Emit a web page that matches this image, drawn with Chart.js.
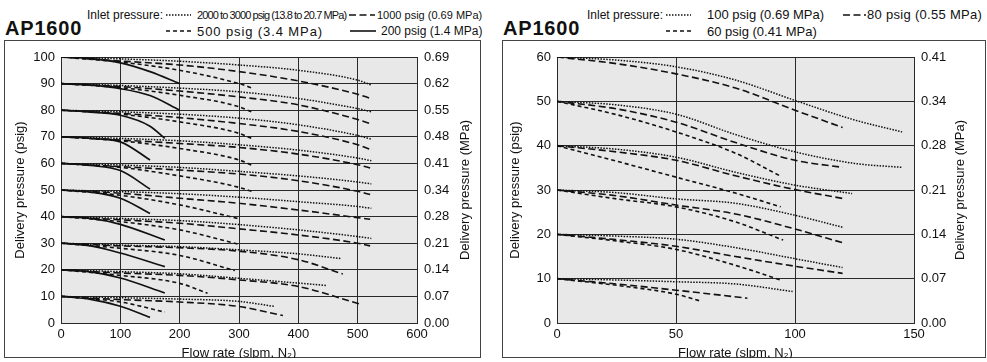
<!DOCTYPE html>
<html>
<head>
<meta charset="utf-8">
<script src="https://cdn.jsdelivr.net/npm/chart.js@4"></script>
<style>
  body { margin:0; width:987px; height:362px; background:#fff; position:relative; overflow:hidden;
         font-family:"Liberation Sans", Arial, sans-serif; color:#111; }
  .frame { position:absolute; top:40px; height:318px; border:1px solid #444; box-sizing:border-box; }
  canvas { position:absolute; top:40px; }
  .t { position:absolute; white-space:nowrap; line-height:1; transform-origin:0 50%; }
  .ap { font-weight:bold; font-size:20px; }
  svg.k { position:absolute; }
</style>
</head>
<body>
<div class="frame" style="left:4px;width:477px"></div>
<div class="frame" style="left:502px;width:484px"></div>

<!-- left header -->
<div class="t ap" style="left:5px;top:18px;letter-spacing:0.8px">AP1600</div>
<div class="t" style="left:87px;top:9px;font-size:12px">Inlet pressure:</div>
<svg class="k" style="left:166px;top:10px" width="25" height="10"><line x1="0" y1="5" x2="25" y2="5" stroke="#111" stroke-width="1.4" stroke-dasharray="1.5 1.5"/></svg>
<div class="t" style="left:197px;top:10px;font-size:11px;letter-spacing:-0.9px">2000 to 3000 psig (13.8 to 20.7 MPa)</div>
<svg class="k" style="left:349px;top:10px" width="26" height="10"><line x1="0" y1="5" x2="26" y2="5" stroke="#111" stroke-width="1.5" stroke-dasharray="7 3.5"/></svg>
<div class="t" style="left:377px;top:10px;font-size:11px">1000 psig (0.69 MPa)</div>
<svg class="k" style="left:166px;top:26px" width="25" height="10"><line x1="0" y1="5" x2="25" y2="5" stroke="#111" stroke-width="1.5" stroke-dasharray="4 3"/></svg>
<div class="t" style="left:197px;top:25px;font-size:13px;letter-spacing:0.9px">500 psig (3.4 MPa)</div>
<svg class="k" style="left:350px;top:26px" width="26" height="10"><line x1="0" y1="5" x2="26" y2="5" stroke="#111" stroke-width="1.6"/></svg>
<div class="t" style="left:381px;top:25px;font-size:12px">200 psig (1.4 MPa)</div>

<!-- right header -->
<div class="t ap" style="left:503px;top:18px;letter-spacing:0.8px">AP1600</div>
<div class="t" style="left:587px;top:9px;font-size:12px">Inlet pressure:</div>
<svg class="k" style="left:666px;top:10px" width="25" height="10"><line x1="0" y1="5" x2="25" y2="5" stroke="#111" stroke-width="1.4" stroke-dasharray="1.5 1.5"/></svg>
<div class="t" style="left:707px;top:8px;font-size:13px">100 psig (0.69 MPa)</div>
<svg class="k" style="left:843px;top:10px" width="23" height="10"><line x1="0" y1="5" x2="23" y2="5" stroke="#111" stroke-width="1.5" stroke-dasharray="7 3.5"/></svg>
<div class="t" style="left:867px;top:8px;font-size:13px;letter-spacing:0.3px">80 psig (0.55 MPa)</div>
<svg class="k" style="left:666px;top:26px" width="25" height="10"><line x1="0" y1="5" x2="25" y2="5" stroke="#111" stroke-width="1.5" stroke-dasharray="4 3"/></svg>
<div class="t" style="left:707px;top:25px;font-size:13px">60 psig (0.41 MPa)</div>

<canvas id="left" width="476" height="318" style="left:4px"></canvas>
<canvas id="right" width="483" height="318" style="left:502px"></canvas>

<script>
// ---- left chart: set pressures 10..100 psig, flow 0..600 slpm ----
// each curve is a list of [flow, delivery pressure]
const leftDotted = [ // 2000 to 3000 psig inlet
  [[0,100],[100,99.3],[200,98.4],[300,97],[400,95],[500,91.3],[523,89.5]],
  [[0,90],[100,89.3],[200,88.3],[300,86.9],[400,84.4],[500,80.6],[523,79.4]],
  [[0,80],[100,79.4],[200,78.5],[300,77],[400,74.5],[500,70.5],[523,69.1]],
  [[0,70],[100,69.4],[200,68.5],[300,67],[400,65],[500,62],[523,61]],
  [[0,60],[100,59.4],[200,58.5],[300,57],[400,55.3],[500,53],[523,52.3]],
  [[0,50],[100,49.4],[200,48.6],[300,47.3],[400,45.6],[500,43.8],[523,43.1]],
  [[0,40],[100,39.3],[200,38.5],[300,37],[400,35],[500,32.5],[523,31.8]],
  [[0,30],[100,29.3],[200,28.7],[300,27.5],[400,26],[473,24.2]],
  [[0,20],[100,19.3],[200,18.5],[300,16.8],[400,15],[448,14.1]],
  [[0,10],[100,9.5],[200,9],[300,8.1],[361,6.2]]
];
const leftLongDash = [ // 1000 psig inlet
  [[0,100],[100,98.5],[200,97],[300,94.5],[400,91],[500,86],[521,84.5]],
  [[0,90],[100,88.9],[200,87.2],[300,85],[400,82],[500,76.5],[521,75]],
  [[0,80],[100,78.8],[200,77.2],[300,75],[400,72],[500,67],[521,65.3]],
  [[0,70],[100,68.8],[200,67.5],[300,66],[400,63.5],[500,59.5],[521,58.3]],
  [[0,60],[100,58.8],[200,57.5],[300,56],[400,53.5],[500,49.5],[521,48.3]],
  [[0,50],[100,48.8],[200,46.9],[300,45],[400,42.5],[500,39.6],[521,39]],
  [[0,40],[100,38.8],[200,37.5],[300,35.4],[400,33.1],[500,30],[521,29]],
  [[0,30],[100,29],[200,28.3],[300,27],[400,23.8],[475,18.4]],
  [[0,20],[100,18.8],[200,17.9],[300,16.2],[400,13.7],[504,7.1]],
  [[0,10],[100,8.8],[200,7.9],[300,6.2],[374,2.8]]
];
const leftShortDash = [ // 500 psig inlet
  [[0,100],[100,98.1],[200,95],[300,90],[325,88.1]],
  [[0,90],[100,88.5],[200,85.6],[300,81.3],[325,79]],
  [[0,80],[100,78.5],[200,75.6],[300,71.3],[325,69]],
  [[0,70],[100,68.5],[200,65.6],[300,61.3],[325,59]],
  [[0,60],[100,58.5],[200,55.3],[300,51],[325,49.2]],
  [[0,50],[100,48],[200,44.4],[300,39.2]],
  [[0,40],[100,38.1],[200,35],[300,29.6]],
  [[0,30],[100,28.1],[200,25.4],[293,19.7]],
  [[0,20],[100,17.9],[200,14.9],[247,11.2]],
  [[0,10],[100,7.9],[175,4.1]]
];
const leftSolid = [ // 200 psig inlet
  [[0,100],[50,99.4],[100,97.8],[150,94.5],[200,90]],
  [[0,90],[50,89.4],[100,88.1],[150,85.5],[200,80]],
  [[0,80],[50,79.3],[100,78.1],[150,74],[175,69.4]],
  [[0,70],[50,69.4],[100,68.1],[150,61.3]],
  [[0,60],[50,59.2],[100,57.3],[150,50.4]],
  [[0,50],[50,49.2],[100,46.9],[150,41.2]],
  [[0,40],[50,39.3],[100,37.1],[175,31.2]],
  [[0,30],[50,29],[100,26.3],[175,21.2]],
  [[0,20],[50,19.2],[100,16.9],[175,11.3]],
  [[0,10],[50,8.9],[100,6.3],[150,2.1]]
];
const leftMpa = ['0.00','0.07','0.14','0.21','0.28','0.34','0.41','0.48','0.55','0.62','0.69'];

// ---- right chart: set pressures 10..60 psig, flow 0..150 slpm ----
const rightDotted = [ // 100 psig inlet
  [[0,60],[25,59.3],[50,57.8],[75,54.8],[100,50.2],[125,45.8],[145,43.1]],
  [[0,50],[25,49.2],[50,47.1],[75,42.5],[100,38.6],[125,36],[145,35.1]],
  [[0,40],[25,39.2],[50,37.4],[75,34],[100,31.1],[124,29.2]],
  [[0,30],[25,29.4],[50,28],[75,27],[100,24.3],[120,21.6]],
  [[0,20],[25,19.6],[50,18.9],[75,17],[100,14.5],[120,12.5]],
  [[0,10],[25,9.7],[50,9.3],[75,8.8],[99,7.1]]
];
const rightLongDash = [ // 80 psig inlet
  [[0,60],[25,58.5],[50,56.2],[75,53],[100,48],[120,44.1]],
  [[0,50],[25,48.3],[50,45.3],[75,40.7],[100,36.7],[120,35.1]],
  [[0,40],[25,38.6],[50,36.7],[75,33.2],[100,30.1],[120,28.1]],
  [[0,30],[25,28.7],[50,26.6],[75,24.6],[100,21.2],[120,18.1]],
  [[0,20],[25,18.8],[50,17.3],[75,15],[100,12.8],[120,11.2]],
  [[0,10],[25,8.8],[50,7.4],[80,5.6]]
];
const rightShortDash = [ // 60 psig inlet
  [[0,50],[25,47],[50,43.1],[75,38.3],[94,33.1]],
  [[0,40],[25,36.5],[50,32.9],[75,29.3],[94,26.2]],
  [[0,30],[25,28],[50,26.2],[75,22.8],[95,18.7]],
  [[0,20],[25,18.5],[50,16.6],[75,13],[94,9.7]],
  [[0,10],[25,8.5],[50,6.5],[60,5]]
];
const rightMpa = ['0.00','0.07','0.14','0.21','0.28','0.34','0.41'];

const ink = '#111';
const font = { family: '"Liberation Sans", Arial, sans-serif', size: 13 };

const dotted = { w: 1.5, dash: [1.5, 1.4] };
const longDash = { w: 1.6, dash: [7, 3.5] };
const shortDash = { w: 1.6, dash: [4, 3] };
const solid = { w: 1.7, dash: [] };

function curves(list, st) {
  return list.map(pts => ({
    data: pts.map(p => ({ x: p[0], y: p[1] })),
    borderColor: ink, borderWidth: st.w, borderDash: st.dash,
    pointRadius: 0, fill: false, cubicInterpolationMode: 'monotone'
  }));
}

// gray plot background
const plotBg = {
  id: 'plotBg',
  beforeDraw(chart) {
    const { ctx, chartArea: a } = chart;
    ctx.save();
    ctx.fillStyle = '#e8e8e8';
    ctx.fillRect(a.left, a.top, a.right - a.left, a.bottom - a.top);
    ctx.restore();
  }
};

// axis titles, both side titles read bottom to top
const axisTitles = {
  id: 'axisTitles',
  afterDraw(chart, args, o) {
    const { ctx, chartArea: a } = chart;
    ctx.save();
    ctx.fillStyle = ink;
    ctx.font = '13px "Liberation Sans", Arial, sans-serif';
    ctx.textAlign = 'center';
    ctx.textBaseline = 'middle';
    ctx.fillText('Flow rate (slpm, N\u2082)', (a.left + a.right) / 2, a.bottom + 30);
    const cy = (a.top + a.bottom) / 2;
    [[a.left - o.l, 'Delivery pressure (psig)'], [a.right + o.r, 'Delivery pressure (MPa)']].forEach(([x, t]) => {
      ctx.save();
      ctx.translate(x, cy);
      ctx.rotate(-Math.PI / 2);
      ctx.fillText(t, 0, 0);
      ctx.restore();
    });
    ctx.restore();
  }
};

function makeChart(id, datasets, xMax, xStep, yMax, mpa, leftW, padRight, tl, tr) {
  const grid = { color: '#2a2a2a', lineWidth: 1, drawTicks: false };
  return new Chart(document.getElementById(id), {
    type: 'line',
    data: { datasets },
    options: {
      responsive: false,
      animation: false,
      layout: { padding: { top: 17, right: padRight, left: 0, bottom: 0 } },
      plugins: { legend: { display: false }, tooltip: { enabled: false }, axisTitles: { l: tl, r: tr } },
      scales: {
        x: {
          type: 'linear', min: 0, max: xMax,
          ticks: { stepSize: xStep, padding: 4, color: ink, font, maxRotation: 0 },
          grid, border: { color: '#2a2a2a' },
          afterFit: s => { s.height = 35; }
        },
        y: {
          min: 0, max: yMax,
          ticks: { stepSize: 10, padding: 6, color: ink, font },
          grid, border: { color: '#2a2a2a' },
          afterFit: s => { s.width = leftW; }
        },
        y2: {
          position: 'right', min: 0, max: yMax,
          ticks: { stepSize: 10, padding: 7, color: ink, font, callback: (v, i) => mpa[i] },
          grid: { display: false, drawTicks: false }, border: { display: false },
          afterFit: s => { s.width = 50; }
        }
      }
    },
    plugins: [plotBg, axisTitles]
  });
}

makeChart('left',
  [].concat(curves(leftDotted, dotted), curves(leftLongDash, longDash),
            curves(leftShortDash, shortDash), curves(leftSolid, solid)),
  600, 100, 100, leftMpa, 57, 13, 41, 48);

makeChart('right',
  [].concat(curves(rightDotted, dotted), curves(rightLongDash, longDash),
            curves(rightShortDash, shortDash)),
  150, 50, 60, rightMpa, 55, 21, 42, 46);
</script>
</body>
</html>
